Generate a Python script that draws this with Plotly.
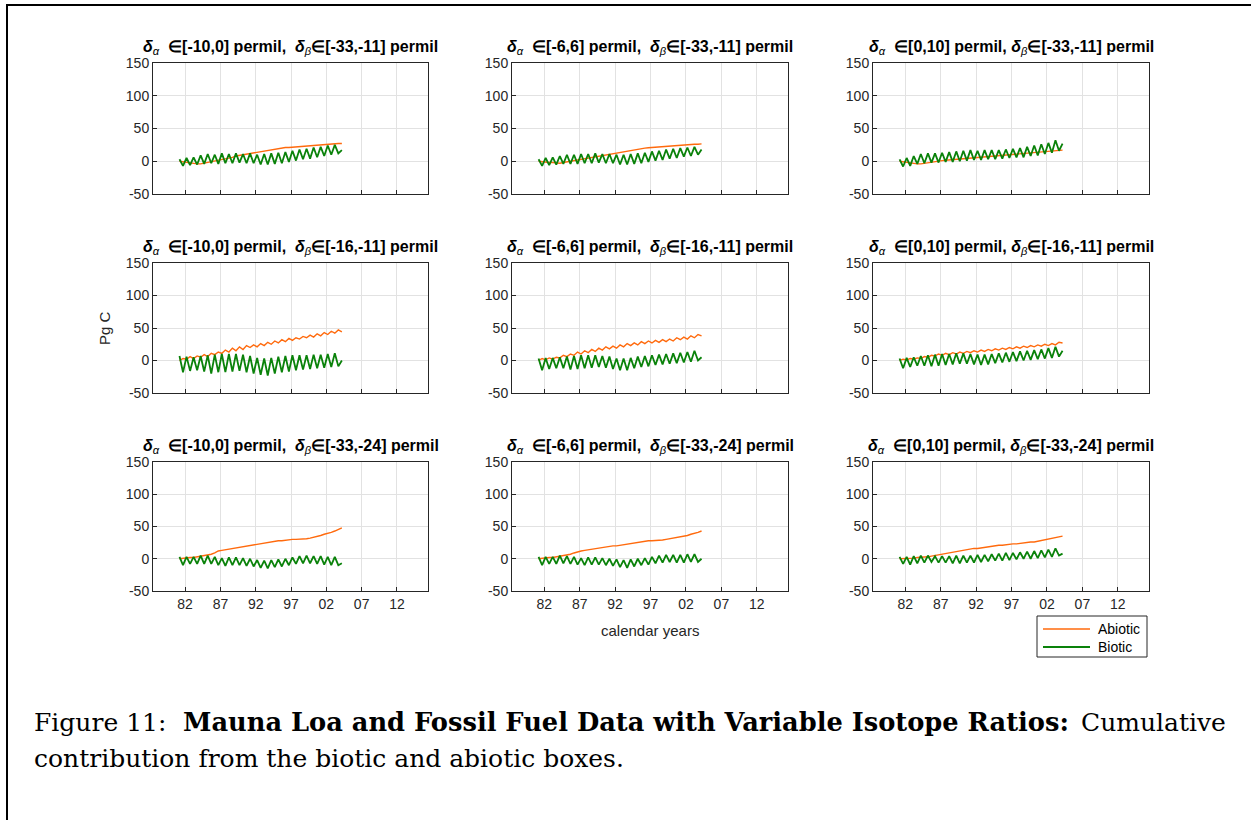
import plotly.graph_objects as go

# ---------------- data ----------------
years = [1981.2, 1981.7, 1982.2, 1982.7, 1983.2, 1983.7, 1984.2, 1984.7, 1985.2, 1985.7,
         1986.2, 1986.7, 1987.2, 1987.7, 1988.2, 1988.7, 1989.2, 1989.7, 1990.2, 1990.7,
         1991.2, 1991.7, 1992.2, 1992.7, 1993.2, 1993.7, 1994.2, 1994.7, 1995.2, 1995.7,
         1996.2, 1996.7, 1997.2, 1997.7, 1998.2, 1998.7, 1999.2, 1999.7, 2000.2, 2000.7,
         2001.2, 2001.7, 2002.2, 2002.7, 2003.2, 2003.7, 2004.2]

alpha_ranges = ["[-10,0]", "[-6,6]", "[0,10]"]
beta_ranges = ["[-33,-11]", "[-16,-11]", "[-33,-24]"]

xtick_vals = [1982, 1987, 1992, 1997, 2002, 2007, 2012]
xtick_text = ["82", "87", "92", "97", "02", "07", "12"]
ytick_vals = [-50, 0, 50, 100, 150]
ytick_text = ["-50", "0", "50", "100", "150"]

series_names = ["Abiotic", "Biotic"]

# row 1 (beta in [-33,-11])
abiotic_11 = [0, -1, -2, -2, -3, -4, -4, -3, -1, 0,
              1, 2, 3, 4, 5, 6, 8, 9, 10, 11,
              12, 13, 14, 15, 16, 17, 18, 19, 20, 20.5,
              21, 21, 21.5, 22, 22, 22.5, 23, 23.5, 24, 24,
              24.5, 25, 25.5, 26, 26.5, 27, 27]
biotic_11 = [3, -7, 5, -6, 6, -5, 9, -4, 11, -3,
             10, -4, 12, -3, 11, -3, 12, -2, 11, -3,
             12, -3, 10, -5, 11, -5, 12, -4, 13, -3,
             14, -1, 16, 1, 18, 3, 19, 4, 21, 6,
             22, 8, 24, 10, 25, 12, 17]
abiotic_12 = [0, -1, -1, -2, -2, -3, -3, -2, -1, 0,
              1, 2, 3, 4, 5, 6, 7, 8, 9, 10,
              11, 12, 13, 14, 15, 16, 17, 18, 19, 19.5,
              20, 20.5, 21, 21, 21.5, 22, 22.5, 23, 23.5, 24,
              24, 24.5, 25, 25.5, 26, 26, 26.5]
biotic_12 = [3, -7, 5, -6, 6, -5, 8, -4, 10, -4,
             10, -4, 11, -3, 11, -3, 12, -2, 11, -3,
             11, -3, 10, -5, 10, -5, 11, -4, 12, -3,
             13, -1, 15, 1, 16, 2, 18, 4, 19, 5,
             20, 7, 21, 8, 22, 10, 18]
abiotic_13 = [0, -1, -2, -3, -3.5, -4, -4, -3, -2, -1,
              0, 0.5, 1, 1.5, 2, 2.5, 3, 3.5, 4, 4.5,
              5, 5.5, 6, 6.5, 7, 7.5, 8, 8.5, 8.5, 9,
              9.5, 10, 10.5, 11, 11.5, 12, 12, 12.5, 13, 13.5,
              14, 14.5, 15, 15.5, 16, 16.5, 17]
biotic_13 = [3, -8, 5, -7, 8, -4, 11, -3, 12, -2,
             12, -2, 13, -1, 14, -1, 15, 0, 16, 1,
             17, 2, 16, 2, 17, 3, 17, 3, 17, 4,
             18, 5, 19, 6, 20, 6, 22, 8, 24, 9,
             26, 11, 28, 13, 32, 16, 27]

# row 2 (beta in [-16,-11])
abiotic_21 = [0, 3, 2, 6, 3, 7, 5, 9, 6, 11,
              9, 13, 11, 16, 13, 19, 15, 21, 17, 23,
              20, 24, 21, 26, 23, 28, 25, 30, 27, 32,
              29, 34, 31, 35, 33, 37, 35, 39, 36, 41,
              38, 43, 40, 45, 42, 47, 44]
biotic_21 = [7, -18, 6, -16, 5, -15, 7, -17, 8, -20,
             9, -18, 10, -18, 10, -17, 10, -16, 9, -18,
             7, -20, 4, -22, 3, -23, 4, -20, 6, -18,
             7, -17, 8, -15, 8, -14, 8, -13, 9, -12,
             9, -11, 10, -10, 11, -9, 0]
abiotic_22 = [0, 3, 1, 4, 2, 5, 4, 8, 6, 10,
              8, 13, 10, 15, 12, 17, 14, 19, 16, 21,
              18, 22, 19, 24, 21, 26, 23, 27, 24, 29,
              26, 30, 27, 31, 28, 32, 29, 33, 30, 35,
              32, 36, 33, 38, 35, 40, 38]
biotic_22 = [3, -15, 4, -13, 4, -12, 5, -12, 6, -14,
             7, -13, 8, -12, 8, -11, 8, -10, 7, -11,
             6, -13, 3, -15, 3, -15, 4, -12, 6, -10,
             7, -9, 8, -7, 9, -6, 10, -5, 11, -4,
             12, -3, 13, -2, 15, 0, 5]
abiotic_23 = [0, 2, 1, 3, 2, 4, 3, 6, 5, 8,
              7, 10, 8, 11, 9, 12, 10, 13, 11, 14,
              12, 15, 13, 16, 14, 17, 15, 18, 16, 19,
              17, 20, 18, 21, 19, 22, 20, 23, 21, 24,
              22, 25, 23, 26, 24, 28, 27]
biotic_23 = [3, -12, 4, -10, 5, -8, 7, -8, 8, -9,
             9, -8, 10, -7, 10, -6, 11, -5, 11, -5,
             10, -6, 9, -7, 9, -6, 10, -4, 11, -3,
             12, -2, 13, -1, 14, 0, 15, 1, 16, 2,
             17, 3, 19, 4, 21, 6, 15]

# row 3 (beta in [-33,-24])
abiotic_31 = [0, 1, 2, 2, 2, 3, 4, 5, 5, 7,
              9, 12, 13, 14, 15, 16, 17, 18, 18, 19,
              20, 21, 22, 23, 24, 25, 26, 27, 28, 28,
              29, 29, 30, 30, 30, 31, 31, 32, 33, 35,
              36, 38, 39, 41, 43, 45, 48]
biotic_31 = [3, -10, 3, -8, 3, -8, 5, -8, 5, -8,
             3, -10, 1, -11, 2, -10, 2, -10, 1, -11,
             0, -12, -2, -14, -3, -15, -2, -13, -1, -12,
             0, -10, 2, -8, 4, -7, 5, -7, 4, -8,
             4, -9, 3, -10, 3, -10, -7]
abiotic_32 = [0, 1, 1, 2, 2, 3, 4, 5, 5, 7,
              9, 11, 12, 13, 14, 15, 16, 17, 17, 18,
              19, 20, 20, 21, 22, 23, 24, 25, 26, 27,
              27, 28, 28, 28, 29, 29, 30, 31, 31, 32,
              33, 35, 36, 38, 39, 41, 43]
biotic_32 = [3, -10, 3, -8, 3, -8, 5, -7, 4, -8,
             3, -9, 1, -10, 2, -9, 2, -9, 1, -10,
             0, -11, -1, -13, -2, -14, -1, -12, 0, -10,
             1, -9, 3, -7, 5, -6, 6, -5, 6, -6,
             6, -6, 7, -5, 7, -5, 0]
abiotic_33 = [0, 0, 1, 1, 1, 2, 2, 3, 3, 4,
              5, 7, 8, 9, 10, 11, 12, 13, 13, 14,
              15, 16, 16, 17, 18, 19, 19, 20, 21, 21,
              22, 22, 23, 23, 24, 24, 25, 26, 26, 27,
              28, 29, 30, 31, 32, 34, 35]
biotic_33 = [3, -8, 3, -9, 4, -7, 5, -6, 5, -5,
             4, -6, 4, -6, 4, -7, 5, -7, 5, -6,
             5, -6, 6, -5, 6, -4, 7, -3, 8, -3,
             9, -2, 9, -1, 10, 0, 11, 0, 12, 1,
             13, 2, 14, 3, 16, 5, 8]

abiotic = [[abiotic_11, abiotic_12, abiotic_13],
           [abiotic_21, abiotic_22, abiotic_23],
           [abiotic_31, abiotic_32, abiotic_33]]
biotic = [[biotic_11, biotic_12, biotic_13],
          [biotic_21, biotic_22, biotic_23],
          [biotic_31, biotic_32, biotic_33]]

# ---------------- layout ----------------
W, H = 1251, 820
col_px = [(153, 428), (512, 788), (873, 1149)]
row_px = [(63, 194), (263, 393), (462, 591)]

ORANGE = "#FF6A0D"
GREEN = "#0A820A"
AXC = "#262626"
GRID = "#e2e2e2"
SANS = "Liberation Sans, Arial, sans-serif"


def px(x):
    return x / W


def py(y):
    return 1 - y / H


fig = go.Figure()
annotations = []
shapes = []
layout = {}

for r in range(3):
    for c in range(3):
        k = r * 3 + c + 1
        xa = "x" if k == 1 else f"x{k}"
        ya = "y" if k == 1 else f"y{k}"
        fig.add_trace(go.Scatter(x=years, y=abiotic[r][c], mode="lines",
                                 line=dict(color=ORANGE, width=1.4),
                                 name=series_names[0], showlegend=False,
                                 xaxis=xa, yaxis=ya))
        fig.add_trace(go.Scatter(x=years, y=biotic[r][c], mode="lines",
                                 line=dict(color=GREEN, width=1.8),
                                 name=series_names[1], showlegend=False,
                                 xaxis=xa, yaxis=ya))
        x0, x1 = col_px[c]
        y0, y1 = row_px[r]
        xkey = "xaxis" if k == 1 else f"xaxis{k}"
        ykey = "yaxis" if k == 1 else f"yaxis{k}"
        layout[xkey] = dict(domain=[px(x0), px(x1)], anchor=ya,
                            range=[1977.45, 2016.4],
                            tickvals=xtick_vals, ticktext=xtick_text,
                            showticklabels=(r == 2),
                            showgrid=True, gridcolor=GRID, gridwidth=1,
                            showline=True, mirror=True, linecolor=AXC, linewidth=1,
                            ticks="inside", ticklen=4, tickcolor=AXC,
                            zeroline=False, automargin=False,
                            tickfont=dict(family=SANS, size=14, color=AXC))
        layout[ykey] = dict(domain=[py(y1), py(y0)], anchor=xa,
                            range=[-50, 150],
                            tickvals=ytick_vals, ticktext=ytick_text,
                            showgrid=True, gridcolor=GRID, gridwidth=1,
                            showline=True, mirror=True, linecolor=AXC, linewidth=1,
                            ticks="inside", ticklen=4, tickcolor=AXC,
                            zeroline=False, automargin=False,
                            tickfont=dict(family=SANS, size=14, color=AXC))
        sep = " " if c == 2 else "  "
        title = (f"<b><i>δ</i></b><sub><i>α</i></sub>  "
                 f"<b>∈{alpha_ranges[c]} permil,{sep}<i>δ</i></b><sub><i>β</i></sub>"
                 f"<b>∈{beta_ranges[r]} permil</b>")
        annotations.append(dict(text=title, x=px((x0 + x1) / 2), y=py(y0 - 16),
                                xref="paper", yref="paper", xanchor="center",
                                yanchor="middle", showarrow=False,
                                font=dict(family=SANS, size=16, color="black")))

annotations.append(dict(text="Pg C", x=px(104), y=py(328), xref="paper", yref="paper",
                        textangle=-90, showarrow=False, xanchor="center", yanchor="middle",
                        font=dict(family=SANS, size=15, color=AXC)))
annotations.append(dict(text="calendar years", x=px(650), y=py(630), xref="paper",
                        yref="paper", showarrow=False, xanchor="center", yanchor="middle",
                        font=dict(family=SANS, size=15, color=AXC)))

# legend (drawn box, samples and labels)
shapes.append(dict(type="rect", xref="paper", yref="paper", x0=px(1037), x1=px(1147),
                   y0=py(657), y1=py(616), line=dict(color=AXC, width=1),
                   fillcolor="white"))
for i, (nm, col, lw) in enumerate([(series_names[0], ORANGE, 1.4),
                                   (series_names[1], GREEN, 1.8)]):
    yy = 629 + i * 18
    shapes.append(dict(type="line", xref="paper", yref="paper", x0=px(1043), x1=px(1090),
                       y0=py(yy), y1=py(yy), line=dict(color=col, width=lw)))
    annotations.append(dict(text=nm, x=px(1096), y=py(yy), xref="paper", yref="paper",
                            xanchor="left", yanchor="middle", showarrow=False,
                            font=dict(family=SANS, size=14, color="black")))

SERIF = "DejaVu Serif, Liberation Serif, serif"
cap = [("Figure 11:", 32, 722, "left", False, 25),
       ("Mauna Loa and Fossil Fuel Data with Variable Isotope Ratios:", 181, 722, "left",
        True, 25.7),
       ("Cumulative", 1228, 722, "right", False, 25),
       ("contribution from the biotic and abiotic boxes.", 32, 758, "left", False, 25)]
for txt, cx, cy, anc, bold, fs in cap:
    annotations.append(dict(text=f"<b>{txt}</b>" if bold else txt, x=px(cx), y=py(cy),
                            xref="paper", yref="paper", xanchor=anc, yanchor="middle",
                            showarrow=False,
                            font=dict(family=SERIF, size=fs, color="black")))

shapes.append(dict(type="line", xref="paper", yref="paper", x0=px(6), x1=1, y0=py(5),
                   y1=py(5), line=dict(color="black", width=2)))
shapes.append(dict(type="line", xref="paper", yref="paper", x0=px(7), x1=px(7), y0=py(4),
                   y1=0, line=dict(color="black", width=2)))

fig.update_layout(width=W, height=H, margin=dict(l=0, r=0, t=0, b=0, autoexpand=False),
                  paper_bgcolor="white", plot_bgcolor="white", showlegend=False,
                  annotations=annotations, shapes=shapes,
                  **layout)

fig.write_html("out.html", config={"displayModeBar": False},
               post_script="document.body.style.margin='0px';document.body.style.overflow='hidden';")
